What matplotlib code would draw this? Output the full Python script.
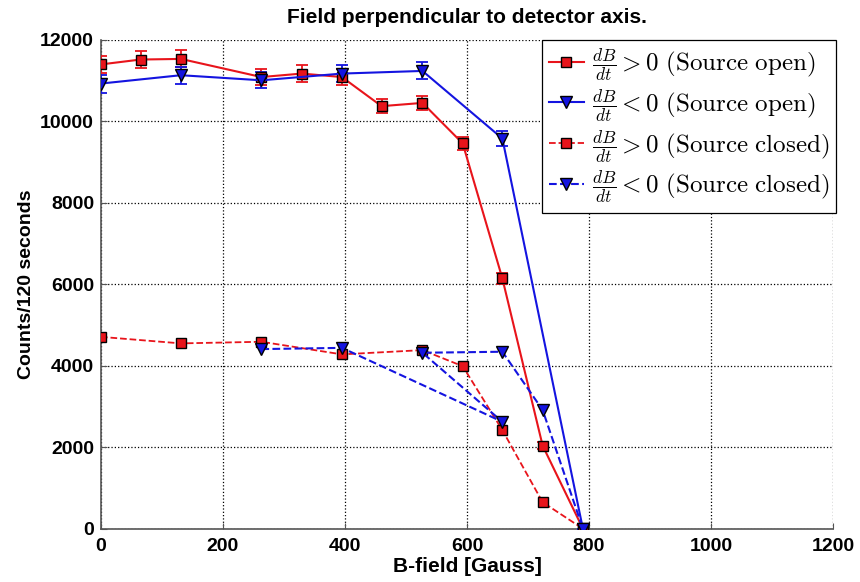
import matplotlib
matplotlib.use('Agg')
import matplotlib.pyplot as plt

# 磁場 [Gauss] とカウント数 (120秒あたり)
x_open_up = [0, 65, 131, 263, 329, 395, 460, 527, 593, 658, 724, 790]
y_open_up = [11400, 11520, 11535, 11090, 11175, 11090, 10375, 10455, 9460, 6145, 2040, 0]
err_open_up = [210, 200, 210, 190, 200, 200, 180, 180, 170, 130, 80, 0]

x_open_down = [0, 131, 263, 395, 527, 658, 790]
y_open_down = [10930, 11135, 11010, 11175, 11240, 9580, 0]
err_open_down = [220, 210, 200, 210, 210, 190, 0]

x_closed_up = [0, 131, 263, 395, 527, 593, 658, 724, 790]
y_closed_up = [4710, 4550, 4590, 4280, 4385, 3990, 2420, 650, 0]

x_closed_down = [263, 395, 658, 527, 658, 724, 790]
y_closed_down = [4410, 4440, 2625, 4320, 4345, 2915, 0]

labels = [
    r'$\frac{dB}{dt} > 0\ \mathrm{(Source\ open)}$',
    r'$\frac{dB}{dt} < 0\ \mathrm{(Source\ open)}$',
    r'$\frac{dB}{dt} > 0\ \mathrm{(Source\ closed)}$',
    r'$\frac{dB}{dt} < 0\ \mathrm{(Source\ closed)}$',
]

plt.rcParams['font.family'] = ['Liberation Sans', 'DejaVu Sans']
plt.rcParams['mathtext.fontset'] = 'cm'

fig = plt.figure(figsize=(8.6, 5.82), dpi=100)
ax = fig.add_axes([0.1174, 0.0916, 0.8512, 0.8397])

red = '#e8141b'
blue = '#1414e0'

# エラーバー (開いた状態のみ)
ax.errorbar(x_open_up, y_open_up, yerr=err_open_up, fmt='none', ecolor=red,
            elinewidth=1.3, capsize=4, capthick=1.3, zorder=3)
ax.errorbar(x_open_down, y_open_down, yerr=err_open_down, fmt='none', ecolor=blue,
            elinewidth=1.3, capsize=4, capthick=1.3, zorder=3)

ax.plot(x_open_up, y_open_up, '-', color=red, lw=1.5, marker='s', ms=7.5,
        mfc=red, mec='black', mew=1.0, label=labels[0], zorder=4)
ax.plot(x_open_down, y_open_down, '-', color=blue, lw=1.5, marker='v', ms=9,
        mfc=blue, mec='black', mew=1.0, label=labels[1], zorder=4)
ax.plot(x_closed_up, y_closed_up, '--', color=red, lw=1.3, marker='s', ms=7.5,
        mfc=red, mec='black', mew=1.0, label=labels[2], zorder=4)
ax.plot(x_closed_down, y_closed_down, '--', color=blue, lw=1.5, marker='v', ms=9,
        mfc=blue, mec='black', mew=1.0, label=labels[3], zorder=4)

ax.set_xlim(0, 1200)
ax.set_ylim(0, 12000)
ax.set_xticks(range(0, 1201, 200))
ax.set_yticks(range(0, 12001, 2000))

ax.grid(True, linestyle=':', color='black', linewidth=0.9)
ax.set_axisbelow(True)
for s in ['top', 'right']:
    ax.spines[s].set_visible(False)
for s in ['left', 'bottom']:
    ax.spines[s].set_color('#555555')
    ax.spines[s].set_linewidth(1.2)
ax.tick_params(direction='in', length=4, colors='#555555', labelcolor='black',
               labelsize=14)
ax.tick_params(axis='x', pad=7)
ax.tick_params(axis='y', pad=5)
for t in ax.get_xticklabels() + ax.get_yticklabels():
    t.set_fontweight('bold')

ax.set_title('Field perpendicular to detector axis.', fontsize=15,
             fontweight='bold', pad=12)
ax.set_xlabel('B-field [Gauss]', fontsize=15, fontweight='bold', labelpad=1)
ax.set_ylabel('Counts/120 seconds', fontsize=14, fontweight='bold', labelpad=4)

leg = ax.legend(loc='upper right', bbox_to_anchor=(1.004, 1.0), borderaxespad=0,
                fontsize=18, fancybox=False, framealpha=1, edgecolor='black',
                handlelength=1.4, handletextpad=0.35, labelspacing=0.12,
                borderpad=0.25)
leg.get_frame().set_linewidth(0.9)

fig.savefig('out.png', dpi=100)
